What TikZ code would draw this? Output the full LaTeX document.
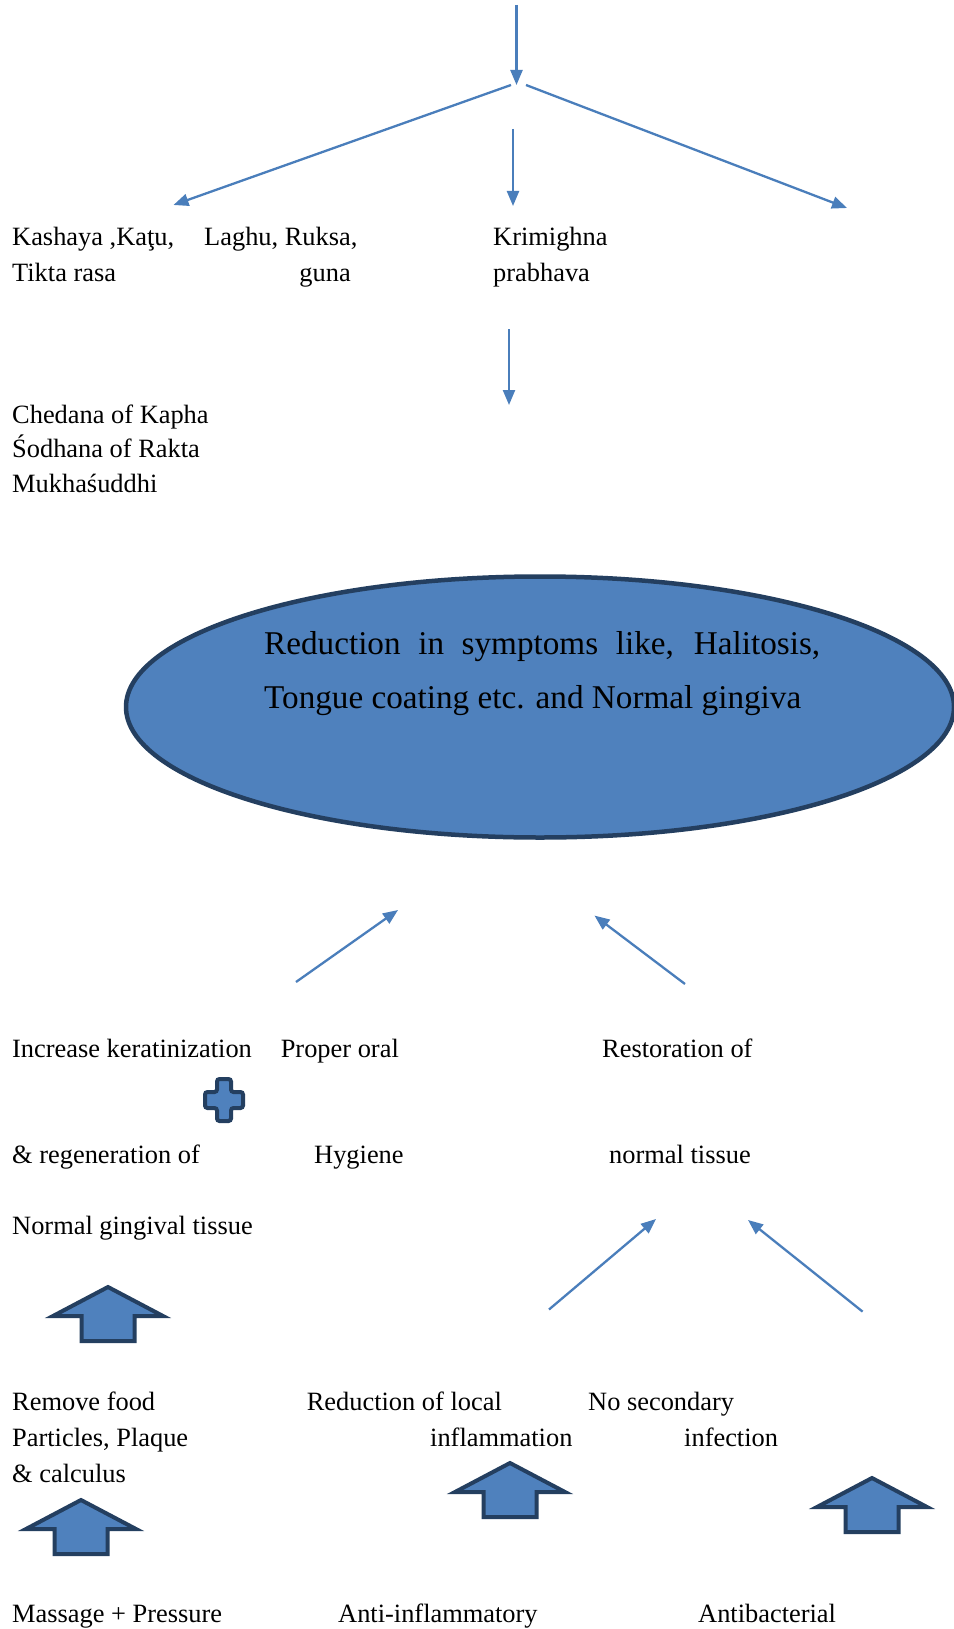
\documentclass[tikz,border=0pt]{standalone}
\usepackage{fontspec}
\setmainfont{Liberation Serif}
\usetikzlibrary{arrows.meta,shapes.geometric}
\definecolor{lineblue}{RGB}{74,126,187}
\definecolor{fillblue}{RGB}{79,129,189}
\definecolor{edgeblue}{RGB}{36,63,96}
\tikzset{
  txt/.style={anchor=base west, inner sep=0pt, font=\fontsize{26.4}{35}\selectfont},
  goaltxt/.style={anchor=base west, inner sep=0pt, font=\fontsize{33.2}{54}\selectfont},
  conn/.style={draw=lineblue, line width=2.3pt, -{Triangle[length=15pt,width=12pt]}},
  blk/.style={fill=fillblue, draw=edgeblue, line width=4pt, line join=miter},
  uparrow/.pic={\path[blk] (0,2) -- (55,31) -- (26.5,31) -- (26.5,56) -- (-26.5,56) -- (-26.5,31) -- (-55,31) -- cycle;},
  plussign/.pic={\path[blk,rounded corners=2.5pt] (-7,-21) -- (7,-21) -- (7,-8) -- (19,-8) -- (19,8) -- (7,8) -- (7,21) -- (-7,21) -- (-7,8) -- (-19,8) -- (-19,-8) -- (-7,-8) -- cycle;}
}
\begin{document}
\begin{tikzpicture}[x=1pt,y=-1pt]
\useasboundingbox[fill=white] (0,0) rectangle (953,1629);

% top branching arrows
\coordinate (top0) at (516.5,5);
\coordinate (hub) at (516.5,85);
\coordinate (hubL) at (511,85);
\coordinate (hubR) at (526,85);
\coordinate (leftT) at (173.5,205);
\coordinate (rightT) at (847,208);
\coordinate (midS) at (513,129);
\coordinate (midT) at (513,206);
\draw[conn] (top0) -- (hub);
\draw[conn] (hubL) -- (leftT);
\draw[conn] (hubR) -- (rightT);
\draw[conn] (midS) -- (midT);

% properties
\node[txt] (kashaya) at (12,246) {Kashaya ,Kaţu,};
\node[txt] (tikta) at (12,281) {Tikta rasa};
\node[txt] (laghu) at (204,246) {Laghu, Ruksa,};
\node[txt,anchor=base east] (guna) at (351,281) {guna};
\node[txt] (krimi) at (493,246) {Krimighna};
\node[txt] (prabhava) at (493,281) {prabhava};

\coordinate (downS) at (509,329);
\coordinate (downT) at (509,405);
\draw[conn] (downS) -- (downT);

\node[txt] (chedana) at (12,423) {Chedana of Kapha};
\node[txt] (sodhana) at (12,457) {Śodhana of Rakta};
\node[txt] (mukha) at (12,492) {Mukhaśuddhi};

% goal ellipse
\node[ellipse, fill=fillblue, draw=edgeblue, line width=4.5pt, minimum width=828pt, minimum height=261pt, inner sep=0pt] (goal) at (540,707) {};
\node[goaltxt] (goal1) at (264,654) {\makebox[556pt][s]{Reduction in symptoms like, Halitosis,}};
\node[goaltxt] (goal2) at (264,708) {Tongue coating etc. and Normal gingiva};

% upper pair of arrows into the ellipse
\coordinate (ulS) at (296,982);
\coordinate (ulT) at (398,910);
\coordinate (urS) at (685,984);
\coordinate (urT) at (594.5,915.6);
\draw[conn] (ulS) -- (ulT);
\draw[conn] (urS) -- (urT);

% middle row
\node[txt] (increase) at (12,1057) {Increase keratinization};
\node[txt] (proper) at (280.6,1057) {Proper oral};
\node[txt] (restor) at (602,1057) {Restoration of};
\pic (plus) at (224,1100) {plussign};
\node[txt] (regen) at (12,1163) {\& regeneration of};
\node[txt] (hygiene) at (314,1163) {Hygiene};
\node[txt] (normaltissue) at (609,1163) {normal tissue};
\node[txt] (gingival) at (12,1234) {Normal gingival tissue};

\pic (up1) at (108,1285) {uparrow};

% lower pair of arrows
\coordinate (llS) at (549,1309.5);
\coordinate (llT) at (656,1219);
\coordinate (lrS) at (862.6,1311.6);
\coordinate (lrT) at (748,1220);
\draw[conn] (llS) -- (llT);
\draw[conn] (lrS) -- (lrT);

% lower row
\node[txt] (remove) at (12,1410) {Remove food};
\node[txt] (particles) at (12,1446) {Particles, Plaque};
\node[txt] (calculus) at (12,1482) {\& calculus};
\node[txt] (redlocal) at (306.6,1410) {Reduction of local};
\node[txt] (inflam) at (430,1446) {inflammation};
\node[txt] (nosec) at (588,1410) {No secondary};
\node[txt] (infect) at (684,1446) {infection};

\pic (up2) at (81,1498) {uparrow};
\pic (up3) at (510,1461) {uparrow};
\pic (up4) at (872,1476) {uparrow};

% bottom row
\node[txt] (massage) at (12,1622) {Massage + Pressure};
\node[txt] (antiinf) at (338,1622) {Anti-inflammatory};
\node[txt] (antibac) at (698,1622) {Antibacterial};
\end{tikzpicture}
\end{document}
